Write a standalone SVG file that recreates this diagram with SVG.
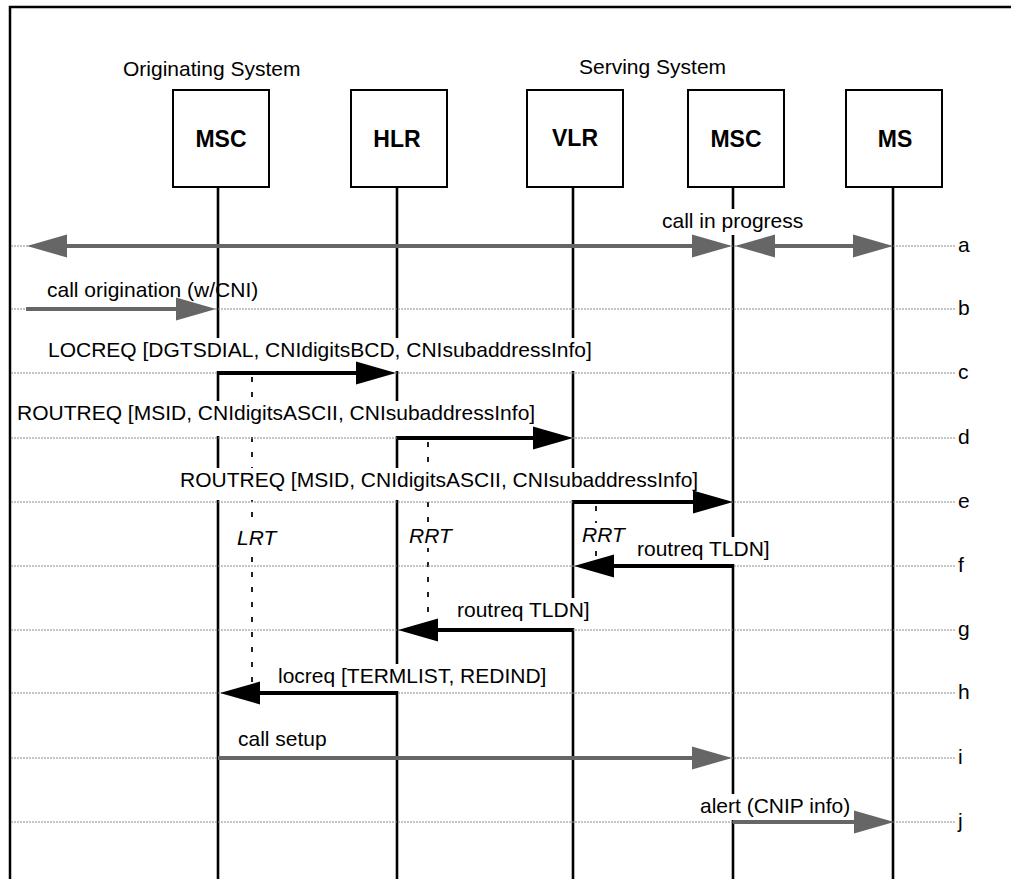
<svg xmlns="http://www.w3.org/2000/svg" width="1011" height="879" viewBox="0 0 1011 879">
<style>
text{font-family:"Liberation Sans",Arial,sans-serif;font-size:21px;fill:#000}
.node{font-weight:bold;font-size:23px;text-anchor:middle}
.it{font-style:italic}
.box{fill:#fff;stroke:#000;stroke-width:2}
.life{stroke:#000;stroke-width:2.6;fill:none}
.timer{stroke:#222;stroke-width:2;stroke-dasharray:5 10;fill:none}
.guide{stroke:#8a8a8a;stroke-width:1;stroke-dasharray:2 1;fill:none}
.mask{fill:#fff;stroke:none}
.blk{stroke:#000;stroke-width:4;fill:none;marker-end:url(#hb)}
.gry{stroke:#666;stroke-width:4;fill:none;marker-end:url(#hg)}
.gry2{stroke:#666;stroke-width:4;fill:none;marker-end:url(#hg);marker-start:url(#hg)}
</style>
<defs>
<marker id="hb" markerUnits="userSpaceOnUse" markerWidth="40" markerHeight="23" refX="2" refY="11.5" orient="auto-start-reverse" overflow="visible">
<path d="M0,0 L40,11.5 L0,23 Z" fill="#000"/>
</marker>
<marker id="hg" markerUnits="userSpaceOnUse" markerWidth="40" markerHeight="23" refX="2" refY="11.5" orient="auto-start-reverse" overflow="visible">
<path d="M0,0 L40,11.5 L0,23 Z" fill="#666"/>
</marker>
</defs>
<rect width="1011" height="879" fill="#fff"/>
<path d="M10,879 V7 H1011" fill="none" stroke="#000" stroke-width="2.5"/>
<text x="123" y="76">Originating System</text>
<text x="579" y="74">Serving System</text>
<g id="nodes">
<g id="node-msc-orig">
<line class="life" x1="218" y1="187" x2="218" y2="879"/>
<rect class="box" x="173" y="90" width="96" height="97"/>
<text class="node" x="221" y="147">MSC</text>
</g>
<g id="node-hlr">
<line class="life" x1="397" y1="187" x2="397" y2="879"/>
<rect class="box" x="351" y="90" width="96" height="97"/>
<text class="node" x="397" y="147">HLR</text>
</g>
<g id="node-vlr">
<line class="life" x1="573" y1="187" x2="573" y2="879"/>
<rect class="box" x="527" y="90" width="96" height="97"/>
<text class="node" x="575" y="146">VLR</text>
</g>
<g id="node-msc-serv">
<line class="life" x1="733" y1="187" x2="733" y2="879"/>
<rect class="box" x="688" y="90" width="96" height="97"/>
<text class="node" x="736" y="147">MSC</text>
</g>
<g id="node-ms">
<line class="life" x1="893" y1="187" x2="893" y2="879"/>
<rect class="box" x="846" y="90" width="96" height="97"/>
<text class="node" x="895" y="147">MS</text>
</g>
</g>
<g id="timers">
<line class="timer" x1="252" y1="377" x2="252" y2="683"/>
<line class="timer" x1="428" y1="442" x2="428" y2="619"/>
<line class="timer" x1="596" y1="506" x2="596" y2="556"/>
</g>
<g id="connectors">
<g id="label-masks">
<rect class="mask" x="660" y="209" width="146" height="26"/>
<rect class="mask" x="46" y="338" width="549" height="33"/>
<rect class="mask" x="15" y="401" width="522" height="35"/>
<rect class="mask" x="178" y="468" width="529" height="32"/>
<rect class="mask" x="235" y="526" width="44" height="24"/>
<rect class="mask" x="407" y="524" width="48" height="24"/>
<rect class="mask" x="580" y="523" width="48" height="23"/>
<rect class="mask" x="635" y="537" width="138" height="27"/>
<rect class="mask" x="455" y="598" width="138" height="30"/>
<rect class="mask" x="276" y="664" width="278" height="27"/>
<rect class="mask" x="698" y="794" width="156" height="26"/>
</g>
<g id="guides">
<line class="guide" x1="11" y1="246" x2="955" y2="246"/>
<line class="guide" x1="11" y1="309" x2="955" y2="309"/>
<line class="guide" x1="11" y1="373" x2="955" y2="373"/>
<line class="guide" x1="11" y1="438" x2="955" y2="438"/>
<line class="guide" x1="11" y1="502" x2="955" y2="502"/>
<line class="guide" x1="11" y1="566" x2="955" y2="566"/>
<line class="guide" x1="11" y1="630" x2="955" y2="630"/>
<line class="guide" x1="11" y1="693" x2="955" y2="693"/>
<line class="guide" x1="11" y1="758" x2="955" y2="758"/>
<line class="guide" x1="11" y1="822" x2="955" y2="822"/>
</g>
<g id="labels">
<text x="662" y="228">call in progress</text>
<text x="47" y="297">call origination (w/CNI)</text>
<text x="48" y="357">LOCREQ [DGTSDIAL, CNIdigitsBCD, CNIsubaddressInfo]</text>
<text x="17" y="420">ROUTREQ [MSID, CNIdigitsASCII, CNIsubaddressInfo]</text>
<text x="180" y="487">ROUTREQ [MSID, CNIdigitsASCII, CNIsubaddressInfo]</text>
<text class="it" x="237" y="545">LRT</text>
<text class="it" x="409" y="543">RRT</text>
<text class="it" x="582" y="542">RRT</text>
<text x="637" y="556">routreq TLDN]</text>
<text x="457" y="617">routreq TLDN]</text>
<text x="278" y="683">locreq [TERMLIST, REDIND]</text>
<text x="238" y="746">call setup</text>
<text x="700" y="813">alert (CNIP info)</text>
<text x="958" y="252">a</text>
<text x="958" y="315">b</text>
<text x="958" y="379">c</text>
<text x="958" y="444">d</text>
<text x="958" y="508">e</text>
<text x="958" y="572">f</text>
<text x="958" y="636">g</text>
<text x="958" y="699">h</text>
<text x="958" y="764">i</text>
<text x="958" y="828">j</text>
</g>
<g id="arrows">
<line class="gry2" x1="65" y1="246" x2="694" y2="246"/>
<line class="gry2" x1="773" y1="246" x2="855" y2="246"/>
<line class="gry" x1="26" y1="309" x2="178" y2="309"/>
<line class="blk" x1="218" y1="373" x2="358" y2="373"/>
<line class="blk" x1="397" y1="438" x2="535" y2="438"/>
<line class="blk" x1="573" y1="502" x2="695" y2="502"/>
<line class="blk" x1="733" y1="566" x2="612" y2="566"/>
<line class="blk" x1="573" y1="630" x2="436" y2="630"/>
<line class="blk" x1="397" y1="693" x2="258" y2="693"/>
<line class="gry" x1="218" y1="758" x2="694" y2="758"/>
<line class="gry" x1="733" y1="822" x2="856" y2="822"/>
</g>
</g>
</svg>
